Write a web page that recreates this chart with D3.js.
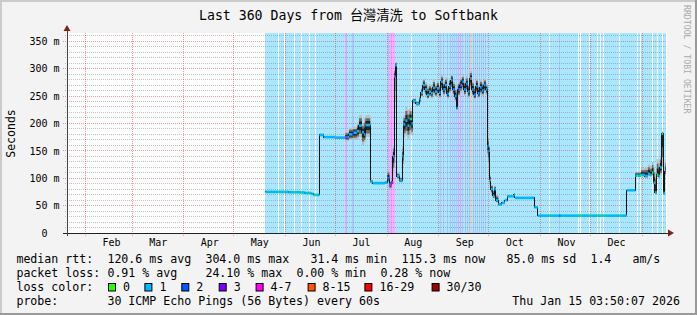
<!DOCTYPE html>
<html>
<head>
<meta charset="utf-8">
<script src="https://cdn.jsdelivr.net/npm/d3@7"></script>
<style>
html, body { margin: 0; padding: 0; background: #fff; }
svg { display: block; }
text { font-family: "DejaVu Sans Mono", monospace; }
</style>
</head>
<body>
<svg id="graph"></svg>
<script>
//Time window of the graph
var graphStart = "2025-01-21 00";
var graphEnd   = "2026-01-16 00";
var dataEnd    = "2026-01-15 04";
var stepHours  = 14.4;   // one rrd step on a 360 day graph

//Median rtt steps (value holds until the next step)
var stepTimes = [
  "2025-05-20 00", "2025-06-02 18", "2025-06-09 18", "2025-06-12 18", "2025-06-16 13", "2025-06-17 21",
  "2025-06-21 11", "2025-06-24 01", "2025-06-30 18",
  "2025-07-06 23", "2025-07-09 04", "2025-07-11 13", "2025-07-13 23", "2025-07-15 04", "2025-07-16 23",
  "2025-07-18 04", "2025-07-19 01",
  "2025-07-21 23", "2025-07-23 13", "2025-07-30 18", "2025-08-01 06", "2025-08-02 11", "2025-08-03 16",
  "2025-08-04 13", "2025-08-05 09", "2025-08-05 23", "2025-08-06 23", "2025-08-08 11", "2025-08-10 06",
  "2025-08-10 21", "2025-08-12 01", "2025-08-13 06", "2025-08-14 11", "2025-08-15 16",
  "2025-08-16 13", "2025-08-18 09", "2025-08-20 11", "2025-08-21 09",
  "2025-08-22 13", "2025-08-23 18", "2025-08-24 23", "2025-08-26 04", "2025-08-27 09", "2025-08-28 13",
  "2025-08-29 18", "2025-08-30 23", "2025-09-01 04", "2025-09-02 09", "2025-09-03 13", "2025-09-04 18",
  "2025-09-05 23", "2025-09-07 04", "2025-09-08 09", "2025-09-09 13", "2025-09-10 18", "2025-09-11 16",
  "2025-09-12 13", "2025-09-13 18", "2025-09-14 23", "2025-09-16 04", "2025-09-17 09", "2025-09-18 13",
  "2025-09-19 18", "2025-09-20 23", "2025-09-22 04", "2025-09-23 09", "2025-09-24 13", "2025-09-25 18",
  "2025-09-26 23", "2025-09-28 04", "2025-09-29 09",
  "2025-09-30 06", "2025-09-30 21", "2025-10-01 16", "2025-10-02 09", "2025-10-03 13", "2025-10-04 11",
  "2025-10-05 09", "2025-10-06 18", "2025-10-08 21", "2025-10-10 18", "2025-10-12 04", "2025-10-16 04",
  "2025-10-16 18", "2025-10-28 09", "2025-10-30 11",
  "2025-12-22 21", "2025-12-27 23", "2025-12-31 09", "2026-01-02 18", "2026-01-04 13", "2026-01-05 18",
  "2026-01-06 23", "2026-01-07 21", "2026-01-08 18", "2026-01-09 21", "2026-01-10 21", "2026-01-11 18",
  "2026-01-12 21", "2026-01-13 18", "2026-01-14 18"
];
var medianMs = [
  75, 74.5, 74, 73, 71.5, 69.5,
  179, 175, 174,
  175, 180, 183, 186, 196, 184,
  180, 197,
  94, 91, 92, 100, 88, 92,
  140, 286, 306, 104, 96, 140,
  198, 205, 196, 208, 200,
  241, 236, 244, 256,
  270, 262, 252, 258, 255, 265,
  258, 264, 256, 276, 262, 270,
  254, 268, 279, 262, 250, 228,
  262, 270, 276, 262, 272, 258,
  282, 262, 252, 268, 255, 266,
  260, 270, 262,
  158, 150, 97, 80, 68, 80,
  60, 52, 55, 60, 67, 70,
  64, 47, 31.6,
  78, 104.6, 106, 104, 108, 106,
  110, 92, 74, 106, 104, 120,
  181, 73, 112
];
var smokeLowMs = [
  74, 73.5, 73, 72, 70.5, 68.5,
  176, 174, 173,
  168, 170, 170, 172, 175, 160,
  165, 175,
  92, 90, 90, 92, 80, 88,
  110, 220, 290, 98, 92, 120,
  175, 178, 172, 180, 178,
  236, 232, 238, 248,
  258, 250, 244, 248, 246, 252,
  248, 252, 246, 260, 250, 256,
  245, 255, 262, 250, 240, 225,
  248, 256, 262, 250, 258, 246,
  264, 250, 244, 254, 246, 252,
  250, 256, 252,
  140, 120, 85, 72, 62, 70,
  55, 50, 53, 58, 66, 66,
  63, 46, 31,
  77, 102, 103, 101, 104, 103,
  105, 88, 70, 102, 100, 105,
  120, 70, 105
];
var smokeHighMs = [
  76, 75.5, 75, 74, 73, 70.5,
  181, 177, 176,
  185, 192, 193, 200, 215, 200,
  210, 215,
  97, 93, 95, 115, 95, 98,
  160, 300, 312, 110, 102, 160,
  215, 230, 225, 228, 222,
  246, 241, 250, 265,
  282, 275, 268, 272, 268, 280,
  272, 278, 270, 288, 276, 284,
  268, 282, 290, 276, 266, 250,
  276, 284, 288, 278, 286, 272,
  296, 278, 268, 282, 270, 280,
  276, 282, 272,
  180, 160, 105, 88, 80, 86,
  70, 55, 57, 62, 69, 73,
  66, 48, 32.5,
  79, 112, 118, 120, 125, 122,
  130, 118, 110, 135, 128, 140,
  185, 110, 135
];

//Steps whose packet loss differs from the usual 1/30
var lossTimes = [
  "2025-05-27 13", "2025-05-31 01", "2025-06-06 01", "2025-06-10 13", "2025-06-15 01", "2025-06-18 23",
  "2025-07-06 18", "2025-07-07 16", "2025-07-10 23", "2025-07-11 13",
  "2025-08-01 13", "2025-08-02 11", "2025-08-03 01", "2025-08-03 16", "2025-08-04 06", "2025-08-04 21", "2025-08-05 11",
  "2025-08-15 13",
  "2025-09-01 18", "2025-09-03 13", "2025-09-05 23", "2025-09-07 18", "2025-09-08 23", "2025-09-10 04",
  "2025-09-11 09", "2025-09-12 13", "2025-09-13 18", "2025-09-14 23", "2025-09-16 18", "2025-09-17 23",
  "2025-09-19 04", "2025-09-20 01", "2025-09-21 13", "2025-09-22 18", "2025-09-23 23", "2025-09-25 04",
  "2025-09-26 09", "2025-09-27 13", "2025-09-28 18",
  "2025-11-06 09", "2025-11-12 09", "2025-11-23 18", "2025-11-24 23", "2025-11-30 11", "2025-12-04 23",
  "2025-12-07 01", "2025-12-08 21", "2025-12-18 09", "2025-12-28 23", "2025-12-30 18", "2026-01-06 23",
  "2026-01-09 23", "2026-01-12 21"
];
var lossLevels = [
  0, 0, 0, 0, 0, 0,
  4, 3, 2, 2,
  2, 4, 4, 3, 4, 4, 4,
  0,
  2, 2, 2, 2, 2, 2,
  2, 3, 3, 2, 2, 2,
  2, 5, 2, 2, 2, 2,
  2, 2, 2,
  0, 2, 0, 0, 0, 0,
  0, 0, 0, 0, 0, 0,
  0, 0
];
var baseLoss = 1;

//Legend
var lossLabels = ["0", "1", "2", "3", "4-7", "8-15", "16-29", "30/30"];
var lossColors = ["#26ff00", "#00b8ff", "#0059ff", "#7e00ff", "#ff00ff", "#ff5500", "#ff0000", "#a10000"];
var rttStats  = ["120.6 ms avg", "304.0 ms max", "31.4 ms min", "115.3 ms now", "85.0 ms sd", "1.4", "am/s"];
var lossStats = ["0.91 % avg", "24.10 % max", "0.00 % min", "0.28 % now"];
var probeText = "30 ICMP Echo Pings (56 Bytes) every 60s";
var stampText = "Thu Jan 15 03:50:07 2026";
var titleText = "Last 360 Days from 台灣清洗 to Softbank";

//Axis
var yTicks = [0, 50, 100, 150, 200, 250, 300, 350];
var yMax = 365;

//Graph dimensions
var dimensions = {
    width: 697,
    height: 315,
    margin: { top: 33, bottom: 82, left: 67, right: 30 }
};
var plotL = dimensions.margin.left;
var plotR = dimensions.width - dimensions.margin.right;
var plotT = dimensions.margin.top;
var plotB = dimensions.height - dimensions.margin.bottom;

var parseTime = d3.timeParse("%Y-%m-%d %H");

var steps = stepTimes.map(function(t, i){
    return { t: parseTime(t), med: medianMs[i], lo: smokeLowMs[i], hi: smokeHighMs[i] };
});
var endT = parseTime(dataEnd);
var last = steps[steps.length - 1];
var series = steps.concat([{ t: endT, med: last.med, lo: last.lo, hi: last.hi }]);

var bisect = d3.bisector(function(d){ return d.t; }).right;
var lossMarks = lossTimes.map(function(t, i){
    var t0 = parseTime(t);
    var s = steps[Math.max(0, bisect(steps, t0) - 1)];
    return { t0: t0, t1: new Date(+t0 + stepHours * 3600e3), level: lossLevels[i], med: s.med };
});

//Create SVG
var svg = d3.select("#graph")
            .attr("width", dimensions.width)
            .attr("height", dimensions.height);

//Background and frame
svg.append("rect").attr("width", dimensions.width).attr("height", dimensions.height).style("fill", "#f3f3f3");
svg.append("rect").attr("x", 0).attr("y", 0).attr("width", dimensions.width).attr("height", 2).style("fill", "#cbcbcb");
svg.append("rect").attr("x", 0).attr("y", 0).attr("width", 2).attr("height", dimensions.height).style("fill", "#cbcbcb");
svg.append("rect").attr("x", dimensions.width - 2).attr("y", 0).attr("width", 2).attr("height", dimensions.height).style("fill", "#999");
svg.append("rect").attr("x", 0).attr("y", dimensions.height - 2).attr("width", dimensions.width).attr("height", 2).style("fill", "#999");

//Scales
var xScale = d3.scaleTime()
               .domain([parseTime(graphStart), parseTime(graphEnd)])
               .range([plotL, plotR]);
var yScale = d3.scaleLinear()
               .domain([0, yMax])
               .range([plotB, plotT]);

//Canvas
svg.append("rect")
   .attr("x", plotL).attr("y", plotT)
   .attr("width", plotR - plotL).attr("height", plotB - plotT)
   .style("fill", "#ffffff");

//Loss background
var bgAlpha = 0.34;
var bg = svg.append("g").style("shape-rendering", "crispEdges");
bg.append("rect")
  .attr("x", xScale(steps[0].t)).attr("y", plotT)
  .attr("width", xScale(endT) - xScale(steps[0].t)).attr("height", plotB - plotT)
  .style("fill", lossColors[baseLoss]).style("opacity", bgAlpha);
bg.selectAll("rect.clear")
  .data(lossMarks)
  .enter()
  .append("rect")
  .attr("x", function(d){ return xScale(d.t0); })
  .attr("y", plotT)
  .attr("width", function(d){ return xScale(d.t1) - xScale(d.t0); })
  .attr("height", plotB - plotT)
  .style("fill", "#ffffff");
bg.selectAll("rect.tint")
  .data(lossMarks.filter(function(d){ return d.level > 0; }))
  .enter()
  .append("rect")
  .attr("x", function(d){ return xScale(d.t0); })
  .attr("y", plotT)
  .attr("width", function(d){ return xScale(d.t1) - xScale(d.t0); })
  .attr("height", plotB - plotT)
  .style("fill", function(d){ return lossColors[d.level]; })
  .style("opacity", bgAlpha);

//Grid
var grid = svg.append("g").style("shape-rendering", "crispEdges");
var minor = d3.range(10, yMax, 10).filter(function(v){ return v % 50 !== 0; });
grid.selectAll("line.minor")
    .data(minor)
    .enter()
    .append("line")
    .attr("x1", plotL - 2).attr("x2", plotR)
    .attr("y1", function(d){ return yScale(d); })
    .attr("y2", function(d){ return yScale(d); })
    .style("stroke", "rgba(120,120,120,0.45)")
    .style("stroke-dasharray", "1,1");
grid.selectAll("line.major")
    .data(yTicks.filter(function(v){ return v > 0; }))
    .enter()
    .append("line")
    .attr("x1", plotL - 4).attr("x2", plotR)
    .attr("y1", function(d){ return yScale(d); })
    .attr("y2", function(d){ return yScale(d); })
    .style("stroke", "rgba(220,60,60,0.5)")
    .style("stroke-dasharray", "1,1");
var months = d3.timeMonth.range(xScale.domain()[0], xScale.domain()[1]);
grid.selectAll("line.month")
    .data(months)
    .enter()
    .append("line")
    .attr("x1", function(d){ return xScale(d); })
    .attr("x2", function(d){ return xScale(d); })
    .attr("y1", plotT).attr("y2", plotB + 3)
    .style("stroke", "rgba(220,60,60,0.5)")
    .style("stroke-dasharray", "1,1");

//Smoke
var smokeLayers = [
    { k: 1.0,  color: "#bdbdbd" },
    { k: 0.7,  color: "#6a6a6a" },
    { k: 0.4,  color: "#222222" }
];
smokeLayers.forEach(function(layer){
    var area = d3.area()
                 .curve(d3.curveStepAfter)
                 .x(function(d){ return xScale(d.t); })
                 .y0(function(d){ return yScale(d.med - (d.med - d.lo) * layer.k); })
                 .y1(function(d){ return yScale(d.med + (d.hi - d.med) * layer.k); });
    svg.append("path").datum(series).attr("d", area).style("fill", layer.color);
});

//Median line
var medLine = d3.line()
                .curve(d3.curveStepAfter)
                .x(function(d){ return xScale(d.t); })
                .y(function(d){ return yScale(d.med); });
svg.append("path")
   .datum(series)
   .attr("d", medLine)
   .style("fill", "none")
   .style("stroke", "#151515")
   .style("stroke-width", 1)
   .style("shape-rendering", "crispEdges");

//Loss coloured median bands
var bandH = 2.6;
var bands = svg.append("g");
bands.selectAll("rect.base")
     .data(steps)
     .enter()
     .append("rect")
     .attr("x", function(d){ return xScale(d.t); })
     .attr("width", function(d, i){ return xScale(series[i + 1].t) - xScale(d.t); })
     .attr("y", function(d){ return yScale(d.med) - bandH / 2; })
     .attr("height", bandH)
     .style("fill", lossColors[baseLoss]);
bands.selectAll("rect.loss")
     .data(lossMarks)
     .enter()
     .append("rect")
     .attr("x", function(d){ return xScale(d.t0); })
     .attr("width", function(d){ return xScale(d.t1) - xScale(d.t0); })
     .attr("y", function(d){ return yScale(d.med) - bandH / 2; })
     .attr("height", bandH)
     .style("fill", function(d){ return lossColors[d.level]; });

//Y-axis labels
var yAxisGen = d3.axisLeft(yScale)
                 .tickValues(yTicks)
                 .tickSize(0)
                 .tickPadding(7.5)
                 .tickFormat(function(d){ return d === 0 ? "0\u00a0\u00a0" : d + " m"; });
var yAxis = svg.append("g")
               .attr("transform", "translate(" + plotL + ",0)")
               .call(yAxisGen);
yAxis.select(".domain").remove();
yAxis.selectAll("text")
     .style("font-family", "'DejaVu Sans Mono', monospace")
     .style("font-size", "10px")
     .style("fill", "#000");

//X-axis labels, centred in each month
var labelDates = months.filter(function(d){ return d.getMonth() !== 0; })
                       .map(function(d){ return new Date(+d + 15.4 * 864e5); });
var xAxisGen = d3.axisBottom(xScale)
                 .tickValues(labelDates)
                 .tickSize(0)
                 .tickPadding(6)
                 .tickFormat(d3.timeFormat("%b"));
var xAxis = svg.append("g")
               .attr("transform", "translate(0," + plotB + ")")
               .call(xAxisGen);
xAxis.select(".domain").remove();
xAxis.selectAll("text")
     .style("font-family", "'DejaVu Sans Mono', monospace")
     .style("font-size", "10px")
     .style("fill", "#000");

//Axis lines and arrows
var axes = svg.append("g").style("shape-rendering", "crispEdges");
axes.append("line").attr("x1", plotL - 4).attr("x2", plotR + 2).attr("y1", plotB).attr("y2", plotB)
    .style("stroke", "#222");
axes.append("line").attr("x1", plotL).attr("x2", plotL).attr("y1", plotB + 3).attr("y2", plotT - 4)
    .style("stroke", "#444");
svg.append("path")
   .attr("d", "M" + (plotR + 1) + "," + (plotB - 3.5) + "L" + (plotR + 7) + "," + plotB + "L" + (plotR + 1) + "," + (plotB + 3.5) + "Z")
   .style("fill", "#8b1c1c");
svg.append("path")
   .attr("d", "M" + (plotL - 3.5) + "," + (plotT - 2) + "L" + plotL + "," + (plotT - 8) + "L" + (plotL + 3.5) + "," + (plotT - 2) + "Z")
   .style("fill", "#8b1c1c");

//Title
svg.append("text")
   .attr("x", dimensions.width / 2)
   .attr("y", 19.5)
   .attr("text-anchor", "middle")
   .style("font-family", "'DejaVu Sans Mono', 'Noto Sans CJK TC', monospace")
   .style("font-size", "13.2px")
   .text(titleText);

//Y-axis title
svg.append("text")
   .attr("transform", "translate(14.5," + ((plotT + plotB) / 2 + 0.5) + ") rotate(-90)")
   .attr("text-anchor", "middle")
   .style("font-size", "11.5px")
   .text("Seconds");

//Watermark
svg.append("text")
   .attr("transform", "translate(684,5) rotate(90)")
   .style("font-size", "8.2px")
   .style("fill", "#aaaaaa")
   .text("RRDTOOL / TOBI OETIKER");

//Legend, laid out on the monospace character grid
var charW = 7;
var legendX = 16.4;
function col(c){ return legendX + c * charW; }
var legend = svg.append("g").style("font-size", (charW / 0.602) + "px");
var rowY = [263, 277, 290.5, 304.5];
var rowHeads = ["median rtt:", "packet loss:", "loss color:", "probe:"];
rowHeads.forEach(function(h, i){
    legend.append("text").attr("x", col(0)).attr("y", rowY[i]).text(h);
});
var rttStatCol = [13, 27, 42, 55, 70, 82, 88];
rttStats.forEach(function(s, i){
    legend.append("text").attr("x", col(rttStatCol[i])).attr("y", rowY[0]).text(s);
});
var lossStatCol = [13, 27, 40, 52];
lossStats.forEach(function(s, i){
    legend.append("text").attr("x", col(lossStatCol[i])).attr("y", rowY[1]).text(s);
});
var boxX = [108, 144.4, 181.3, 218.7, 255.6, 307.6, 364.4, 431.6];
lossLabels.forEach(function(l, i){
    legend.append("rect")
          .attr("x", boxX[i] + 0.5).attr("y", 283.5)
          .attr("width", 7).attr("height", 7.5)
          .style("fill", lossColors[i])
          .style("stroke", "#000")
          .style("stroke-width", 1);
    legend.append("text").attr("x", boxX[i] + 15).attr("y", rowY[2]).text(l);
});
legend.append("text").attr("x", col(13)).attr("y", rowY[3]).text(probeText);
legend.append("text").attr("x", 680).attr("y", rowY[3]).attr("text-anchor", "end").text(stampText);
</script>
</body>
</html>
